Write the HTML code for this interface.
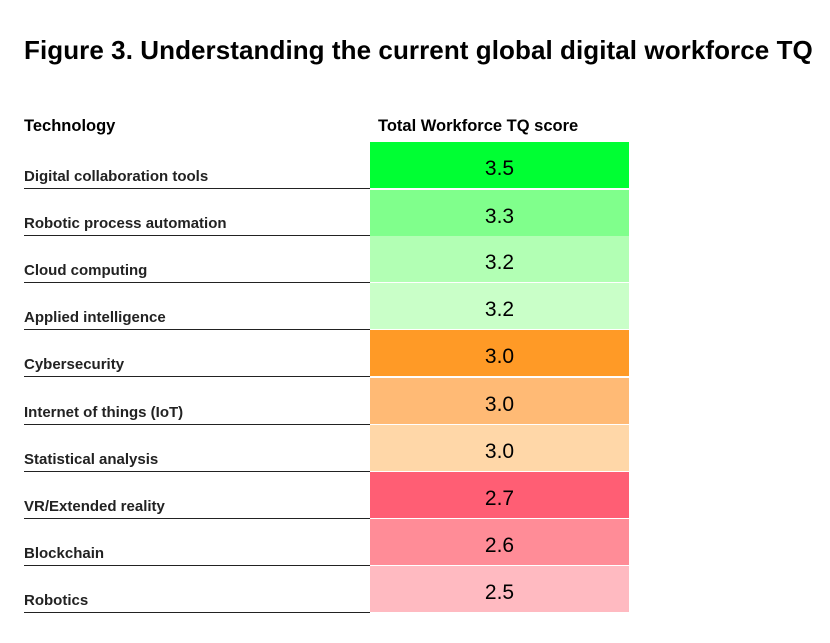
<!DOCTYPE html>
<html><head><style>
body{margin:0;width:830px;height:643px;background:#fff;font-family:"Liberation Sans",Arial,sans-serif;position:relative;overflow:hidden;color:#111}
.t{position:absolute;left:24px;top:35px;font-size:26px;letter-spacing:0.07px;font-weight:bold;white-space:nowrap;color:#000}
.h{position:absolute;top:117px;font-size:16.5px;font-weight:bold;color:#000}
.row{position:absolute;left:24px;width:606px;height:47px}
.lab{position:absolute;left:0;bottom:4px;font-size:15px;font-weight:bold;color:#222}
.line{position:absolute;left:0;bottom:0;width:346px;height:1.5px;background:#222}
.cell{position:absolute;left:346px;top:0;width:259px;height:46px;text-align:center;line-height:54px;font-size:21px;color:#000}
</style></head><body>
<div class="t">Figure 3. Understanding the current global digital workforce TQ</div>
<div class="h" style="left:24px">Technology</div>
<div class="h" style="left:378px">Total Workforce TQ score</div>
<div class="row" style="top:142px"><div class="lab">Digital collaboration tools</div><div class="line"></div><div class="cell" style="background:#00ff33">3.5</div></div>
<div class="row" style="top:189px"><div class="lab">Robotic process automation</div><div class="line"></div><div class="cell" style="background:#80ff8c;top:1px">3.3</div></div>
<div class="row" style="top:236px"><div class="lab">Cloud computing</div><div class="line"></div><div class="cell" style="background:#b2ffb4">3.2</div></div>
<div class="row" style="top:283px"><div class="lab">Applied intelligence</div><div class="line"></div><div class="cell" style="background:#c9ffc8">3.2</div></div>
<div class="row" style="top:330px"><div class="lab">Cybersecurity</div><div class="line"></div><div class="cell" style="background:#ff9a26">3.0</div></div>
<div class="row" style="top:378px"><div class="lab">Internet of things (IoT)</div><div class="line"></div><div class="cell" style="background:#ffba75">3.0</div></div>
<div class="row" style="top:425px"><div class="lab">Statistical analysis</div><div class="line"></div><div class="cell" style="background:#ffd7a8">3.0</div></div>
<div class="row" style="top:472px"><div class="lab">VR/Extended reality</div><div class="line"></div><div class="cell" style="background:#ff5e74">2.7</div></div>
<div class="row" style="top:519px"><div class="lab">Blockchain</div><div class="line"></div><div class="cell" style="background:#ff8c97">2.6</div></div>
<div class="row" style="top:566px"><div class="lab">Robotics</div><div class="line"></div><div class="cell" style="background:#ffbac1">2.5</div></div>
</body></html>
